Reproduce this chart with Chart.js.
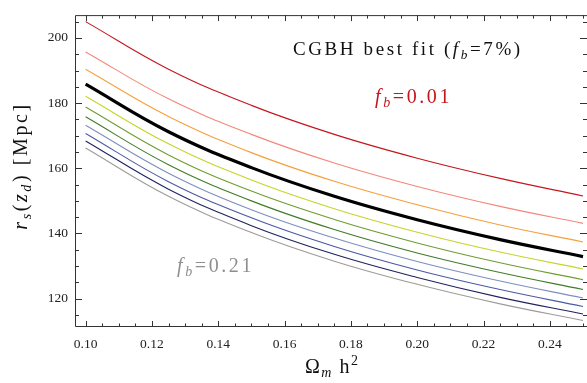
<!DOCTYPE html>
<html>
<head>
<meta charset="utf-8">
<script src="https://cdn.jsdelivr.net/npm/chart.js@4"></script>
<style>
  html, body { margin: 0; padding: 0; background: #fff; }
  #c { display: block; }
</style>
</head>
<body>
<canvas id="c" width="587" height="383"></canvas>
<script>
/*-------------------- DATA --------------------*/
const omegaH2 = [0.10, 0.125, 0.15, 0.175, 0.20, 0.225, 0.25];
const fbValues = [0.01, 0.03, 0.05, 0.07, 0.09, 0.11, 0.13, 0.15, 0.17, 0.19, 0.21];

const rsFb01 = [205.0, 190.4, 179.3, 170.4, 163.1, 156.9, 151.5];
const rsFb03 = [195.7, 181.3, 170.4, 161.6, 154.4, 148.3, 143.1];
const rsFb05 = [190.4, 175.9, 164.8, 156.0, 148.8, 142.6, 137.4];
const rsFb07 = [185.8, 171.2, 160.2, 151.4, 144.2, 138.1, 132.9];
const rsFb09 = [182.1, 167.5, 156.4, 147.6, 140.4, 134.3, 129.1];
const rsFb11 = [178.8, 164.1, 153.0, 144.3, 137.1, 131.0, 125.8];
const rsFb13 = [175.8, 161.1, 150.0, 141.2, 134.0, 128.0, 122.8];
const rsFb15 = [173.2, 158.5, 147.3, 138.6, 131.4, 125.4, 120.2];
const rsFb17 = [170.7, 155.9, 144.8, 136.0, 128.8, 122.8, 117.6];
const rsFb19 = [168.4, 153.6, 142.4, 133.6, 126.5, 120.4, 115.3];
const rsFb21 = [166.2, 151.4, 140.3, 131.5, 124.4, 118.4, 113.3];

const xTickLabels = [0.10, 0.12, 0.14, 0.16, 0.18, 0.20, 0.22, 0.24];
const yTickLabels = [120, 140, 160, 180, 200];

const curveColors = ['#c4161c', '#f4877a', '#f5a03c', '#000000', '#c5d52a', '#6f9d32',
                     '#3e7d2a', '#7d8fbf', '#4a5aa5', '#1e2260', '#a09a9a'];
const curves = [rsFb01, rsFb03, rsFb05, rsFb07, rsFb09, rsFb11, rsFb13, rsFb15, rsFb17, rsFb19, rsFb21];

const SERIF = '"Liberation Serif", "DejaVu Serif", serif';

/*-------------------- HELPERS --------------------*/
// parts: [{t, it, sub, sup}] drawn left to right from x, baseline y
function richWidth(ctx, parts, size, spacing) {
    let w = 0;
    parts.forEach(p => {
        let s = (p.sub || p.sup) ? size * 0.7 : size;
        ctx.font = (p.it ? 'italic ' : '') + s + 'px ' + SERIF;
        w += ctx.measureText(p.t).width + spacing * p.t.length;
    });
    return w;
}

function drawRich(ctx, x, y, parts, size, color, spacing) {
    ctx.fillStyle = color;
    ctx.textBaseline = 'alphabetic';
    ctx.textAlign = 'left';
    parts.forEach(p => {
        let s = (p.sub || p.sup) ? size * 0.7 : size;
        let dy = p.sub ? size * 0.22 : (p.sup ? -size * 0.38 : 0);
        ctx.font = (p.it ? 'italic ' : '') + s + 'px ' + SERIF;
        for (const ch of p.t) {
            ctx.fillText(ch, x, y + dy);
            x += ctx.measureText(ch).width + spacing;
        }
    });
}

const framePlugin = {
    id: 'frame',
    afterDraw(chart) {
        const { ctx, chartArea: a, scales: { x, y } } = chart;
        ctx.save();
        ctx.strokeStyle = '#333';
        ctx.lineWidth = 1;
        ctx.beginPath();
        ctx.moveTo(a.left + 0.5, a.top + 0.5);
        ctx.lineTo(a.left + 0.5, a.bottom - 0.5);
        ctx.lineTo(a.right, a.bottom - 0.5);
        ctx.moveTo(a.left + 0.5, a.top + 0.5);
        ctx.lineTo(a.right, a.top + 0.5);
        ctx.stroke();

        // x ticks, bottom and top, every 0.005
        ctx.beginPath();
        for (let i = 20; i <= 50; i++) {
            let px = Math.round(x.getPixelForValue(i * 0.005)) + 0.5;
            let len = (i % 4 === 0) ? 6 : 3.5;
            ctx.moveTo(px, a.bottom);
            ctx.lineTo(px, a.bottom - len);
            ctx.moveTo(px, a.top);
            ctx.lineTo(px, a.top + len);
        }
        // y ticks, left and right, every 5
        for (let v = 115; v <= 205; v += 5) {
            let py = Math.round(y.getPixelForValue(v)) + 0.5;
            let len = (v % 20 === 0) ? 7 : 4;
            ctx.moveTo(a.left, py);
            ctx.lineTo(a.left + len, py);
            ctx.moveTo(a.right, py);
            ctx.lineTo(a.right - len, py);
        }
        ctx.stroke();

        // annotations
        drawRich(ctx, 293, 55, [{ t: 'CGBH best fit (' }, { t: 'f', it: true }, { t: 'b', it: true, sub: true }, { t: '=7%)' }],
            19, '#111', 2.6);
        drawRich(ctx, 375, 103, [{ t: 'f', it: true }, { t: 'b', it: true, sub: true }, { t: '=0.01' }],
            20, '#c4161c', 2.6);
        drawRich(ctx, 177, 272, [{ t: 'f', it: true }, { t: 'b', it: true, sub: true }, { t: '=0.21' }],
            20, '#8f8f8f', 2.6);

        // axis titles
        drawRich(ctx, 305, 373, [{ t: 'Ω' }, { t: 'm', it: true, sub: true }, { t: ' h' }, { t: '2', sup: true }],
            20, '#111', 1.5);
        const yTitle = [{ t: 'r', it: true }, { t: 's', it: true, sub: true }, { t: '(' }, { t: 'z', it: true },
                        { t: 'd', it: true, sub: true }, { t: ') [Mpc]' }];
        let w = richWidth(ctx, yTitle, 20, 2.6);
        ctx.translate(27, 166);
        ctx.rotate(-Math.PI / 2);
        drawRich(ctx, -w / 2, 0, yTitle, 20, '#111', 2.6);
        ctx.restore();
    }
};

/*-------------------- CHART --------------------*/
const datasets = curves.map((c, i) => ({
    label: 'f_b = ' + fbValues[i],
    data: c.map((v, j) => ({ x: omegaH2[j], y: v })),
    borderColor: curveColors[i],
    borderWidth: fbValues[i] === 0.07 ? 3.2 : 1.1,
    pointRadius: 0,
    tension: 0.4,
    fill: false
}));

new Chart(document.getElementById('c'), {
    type: 'line',
    data: { datasets: datasets },
    options: {
        responsive: false,
        animation: false,
        devicePixelRatio: 1,
        layout: { padding: { top: 8, right: 0, left: 0, bottom: 0 } },
        plugins: { legend: { display: false }, tooltip: { enabled: false } },
        scales: {
            x: {
                type: 'linear',
                min: 0.0968,
                max: 0.2512,
                grid: { display: false, drawTicks: false },
                border: { display: false },
                afterBuildTicks: (s) => { s.ticks = xTickLabels.map(v => ({ value: v })); },
                afterFit: (s) => { s.height = 56; },
                ticks: {
                    padding: 9,
                    autoSkip: false,
                    maxRotation: 0,
                    color: '#222',
                    font: { family: SERIF, size: 13.5 },
                    callback: (v) => v.toFixed(2)
                }
            },
            y: {
                type: 'linear',
                min: 111.3,
                max: 207.0,
                grid: { display: false, drawTicks: false },
                border: { display: false },
                afterBuildTicks: (s) => { s.ticks = yTickLabels.map(v => ({ value: v })); },
                afterFit: (s) => { s.width = 75; },
                ticks: {
                    padding: 7,
                    color: '#222',
                    font: { family: SERIF, size: 13.5 },
                    callback: (v) => String(v)
                }
            }
        }
    },
    plugins: [framePlugin]
});
</script>
</body>
</html>
